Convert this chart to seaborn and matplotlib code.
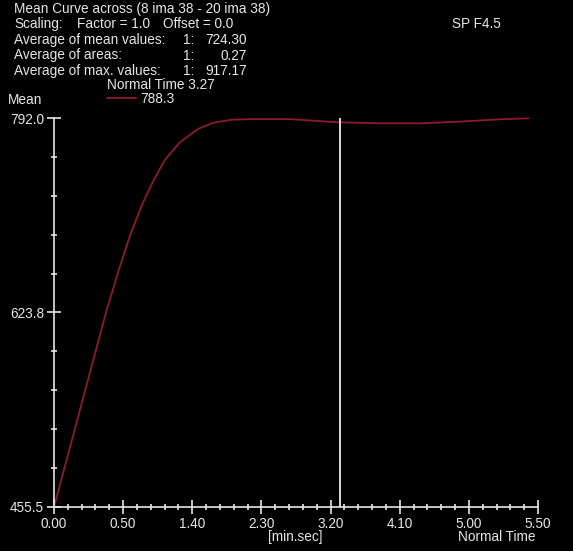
from matplotlib import pyplot as plt
from matplotlib.ticker import MultipleLocator, FixedLocator, AutoMinorLocator, FuncFormatter
import pandas as pd
import seaborn as sns

# time in seconds (axis shows min.sec), mean value
time_s = [0, 21, 38, 47, 55, 64, 72, 80, 91, 104, 115, 128, 142, 171, 205, 236, 265, 292, 323, 343]
mean_val = [455.5, 549.5, 625.5, 661.0, 690.5, 718.0, 738.0, 755.5, 771.0, 782.5,
            787.8, 790.5, 791.0, 791.0, 788.3, 787.4, 787.4, 788.8, 790.9, 791.7]
y_ticks = [455.5, 623.8, 792.0]
cursor_s = 207  # Normal Time 3.27

header = [
    "Mean Curve across (8 ima 38 - 20 ima 38)",
    "Scaling:",
    "Average of mean values:",
    "Average of areas:",
    "Average of max. values:",
]
stat_vals = ["724.30", "0.27", "917.17"]

df = pd.DataFrame({"t": time_s, "Mean": mean_val})

sns.set_style("ticks")
fg = "#e6e6e6"
fs = 9.8
plt.rcParams["font.family"] = ["Liberation Sans", "DejaVu Sans"]
plt.rcParams["font.size"] = fs

W, H = 573, 551
fig = plt.figure(figsize=(W / 100, H / 100), dpi=100, facecolor="black")
ax = fig.add_axes([54 / W, 1 - 507 / H, (538 - 54) / W, (507 - 118) / H])
ax.set_facecolor("black")

sns.lineplot(data=df, x="t", y="Mean", ax=ax, color="#8e1b2c", linewidth=1.3,
             label="788.3", clip_on=False)
ax.axvline(cursor_s, color="white", linewidth=1.2)

ax.set_xlim(0, 350)
ax.set_ylim(y_ticks[0], y_ticks[-1])
ax.xaxis.set_major_locator(MultipleLocator(50))
ax.xaxis.set_minor_locator(MultipleLocator(10))
ax.yaxis.set_major_locator(FixedLocator(y_ticks))
ax.yaxis.set_minor_locator(AutoMinorLocator(5))
ax.xaxis.set_major_formatter(FuncFormatter(lambda t, p: f"{int(t // 60)}.{int(round(t % 60)):02d}"))
ax.yaxis.set_major_formatter(FuncFormatter(lambda v, p: f"{v:.1f}"))

for s in ["top", "right"]:
    ax.spines[s].set_visible(False)
for s in ["left", "bottom"]:
    ax.spines[s].set_color(fg)
    ax.spines[s].set_linewidth(1.2)
ax.tick_params(which="major", direction="inout", length=10, width=1.2, colors=fg, labelsize=fs, pad=2)
ax.tick_params(which="minor", direction="inout", length=5, width=1.2, colors=fg)
ax.set_xlabel("")
ax.set_ylabel("")

leg = ax.legend(title="Normal Time 3.27", loc="upper left",
                bbox_to_anchor=(107 / W, 1 - 78 / H), bbox_transform=fig.transFigure,
                frameon=False, borderpad=0, borderaxespad=0, handlelength=2.1,
                handletextpad=0.35, labelspacing=0, fontsize=fs, title_fontsize=fs,
                labelcolor=fg)
leg.get_title().set_color(fg)
leg._legend_box.align = "left"


def ftext(x, y, s, **kw):
    fig.text(x / W, 1 - y / H, s, color=fg, fontsize=fs, va="center", **kw)


ftext(14, 9, header[0])
ftext(14, 24, header[1])
ftext(77, 24, "Factor = 1.0")
ftext(163, 24, "Offset = 0.0")
for i, (lab, v) in enumerate(zip(header[2:], stat_vals)):
    y = 40 + i * 15.5
    ftext(14, y, lab)
    ftext(183, y, "1:")
    ftext(247, y, v, ha="right")
ftext(452, 24, "SP F4.5")
ftext(8, 100, "Mean")
ftext(268, 537, "[min.sec]")
ftext(458, 537, "Normal Time")

fig.savefig("out.png", dpi=100, facecolor="black")
